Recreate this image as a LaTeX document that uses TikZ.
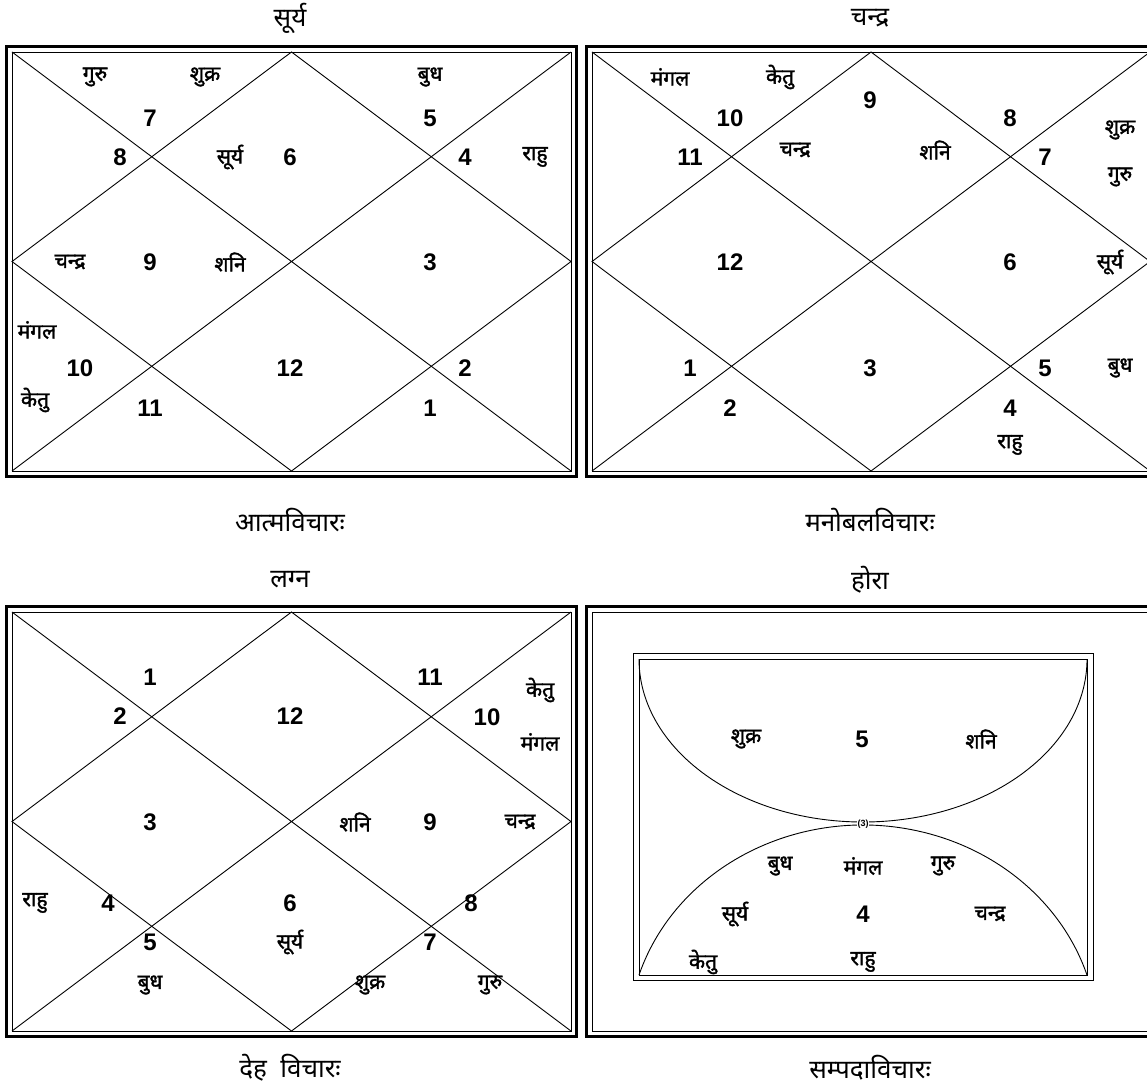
\documentclass[tikz,border=0pt]{standalone}
\usepackage{fontspec}
\setmainfont{Liberation Sans}
\newfontfamily\devfont[Script=Devanagari]{Noto Sans}
\newfontfamily\devbold[Script=Devanagari,FakeBold=1.6]{Noto Sans}
\tikzset{
  numtxt/.style={font=\fontsize{24}{24}\selectfont\bfseries, inner sep=0pt},
  pltxt/.style={font=\devbold\fontsize{21}{21}\selectfont, inner sep=0pt},
  ttltxt/.style={font=\devfont\fontsize{26}{26}\selectfont, inner sep=0pt},
  boxline/.style={line width=0.9pt},
  outerframe/.style={line width=2.6pt},
}
\newcommand\nichart[4]{%
  \draw[outerframe] (#1-5.5,#2-5.5) rectangle (#3+5.5,#4+5.5);
  \draw[boxline] (#1,#2) rectangle (#3,#4);
  \draw[boxline] (#1,#2) -- (#3,#4) (#3,#2) -- (#1,#4);
  \draw[boxline] ({(#1+#3)/2},#2) -- (#3,{(#2+#4)/2}) -- ({(#1+#3)/2},#4) -- (#1,{(#2+#4)/2}) -- cycle;
}
\begin{document}
\begin{tikzpicture}[x=1pt,y=-1pt]
\clip (0,0) rectangle (1147,1089);
\fill[white] (0,0) rectangle (1147,1089);

% ---------- Chart A: top-left (सूर्य) ----------
\nichart{12}{52}{571}{471}
\node[ttltxt] (tA) at (290,18) {सूर्य};
\node[ttltxt] (cA) at (290,520) {आत्मविचारः};
\node[pltxt] (a1) at (95,77) {गुरु};
\node[pltxt] (a2) at (205,77) {शुक्र};
\node[numtxt] (a3) at (150,118) {7};
\node[numtxt] (a4) at (120,157) {8};
\node[pltxt] (a5) at (230,157) {सूर्य};
\node[numtxt] (a6) at (290,157) {6};
\node[pltxt] (a7) at (430,77) {बुध};
\node[numtxt] (a8) at (430,118) {5};
\node[numtxt] (a9) at (465,157) {4};
\node[pltxt] (a10) at (535,157) {राहु};
\node[pltxt] (a11) at (70,262) {चन्द्र};
\node[numtxt] (a12) at (150,262) {9};
\node[pltxt] (a13) at (230,262) {शनि};
\node[numtxt] (a14) at (430,262) {3};
\node[pltxt] (a15) at (37,330) {मंगल};
\node[numtxt] (a16) at (80,368) {10};
\node[pltxt] (a17) at (35,400) {केतु};
\node[numtxt] (a18) at (150,408) {11};
\node[numtxt] (a19) at (290,368) {12};
\node[numtxt] (a20) at (465,368) {2};
\node[numtxt] (a21) at (430,408) {1};

% ---------- Chart B: top-right (चन्द्र) ----------
\nichart{592}{52}{1150}{471}
\node[ttltxt] (tB) at (870,18) {चन्द्र};
\node[ttltxt] (cB) at (870,520) {मनोबलविचारः};
\node[pltxt] (b1) at (670,77) {मंगल};
\node[pltxt] (b2) at (780,77) {केतु};
\node[numtxt] (b3) at (730,118) {10};
\node[numtxt] (b4) at (690,157) {11};
\node[numtxt] (b5) at (870,100) {9};
\node[pltxt] (b6) at (795,150) {चन्द्र};
\node[pltxt] (b7) at (935,150) {शनि};
\node[numtxt] (b8) at (1010,118) {8};
\node[numtxt] (b9) at (1045,157) {7};
\node[pltxt] (b10) at (1120,130) {शुक्र};
\node[pltxt] (b11) at (1120,177) {गुरु};
\node[numtxt] (b12) at (730,262) {12};
\node[numtxt] (b13) at (1010,262) {6};
\node[pltxt] (b14) at (1110,262) {सूर्य};
\node[numtxt] (b15) at (690,368) {1};
\node[numtxt] (b16) at (870,368) {3};
\node[numtxt] (b17) at (1045,368) {5};
\node[pltxt] (b18) at (1120,368) {बुध};
\node[numtxt] (b19) at (730,408) {2};
\node[numtxt] (b20) at (1010,408) {4};
\node[pltxt] (b21) at (1010,445) {राहु};

% ---------- Chart C: bottom-left (लग्न) ----------
\nichart{12}{612}{571}{1031}
\node[ttltxt] (tC) at (290,580) {लग्न};
\node[ttltxt] (cC) at (290,1068) {देह\ \ विचारः};
\node[numtxt] (c1) at (150,677) {1};
\node[numtxt] (c2) at (120,716) {2};
\node[numtxt] (c3) at (290,716) {12};
\node[numtxt] (c4) at (430,677) {11};
\node[numtxt] (c5) at (487,717) {10};
\node[pltxt] (c6) at (540,690) {केतु};
\node[pltxt] (c7) at (540,742) {मंगल};
\node[numtxt] (c8) at (150,822) {3};
\node[pltxt] (c9) at (355,822) {शनि};
\node[numtxt] (c10) at (430,822) {9};
\node[pltxt] (c11) at (520,822) {चन्द्र};
\node[pltxt] (c12) at (35,903) {राहु};
\node[numtxt] (c13) at (108,903) {4};
\node[numtxt] (c14) at (150,942) {5};
\node[pltxt] (c15) at (150,985) {बुध};
\node[numtxt] (c16) at (290,903) {6};
\node[pltxt] (c17) at (290,942) {सूर्य};
\node[numtxt] (c18) at (471,903) {8};
\node[numtxt] (c19) at (430,942) {7};
\node[pltxt] (c20) at (370,985) {शुक्र};
\node[pltxt] (c21) at (490,985) {गुरु};

% ---------- Chart D: bottom-right (होरा) ----------
\draw[outerframe] (586.5,606.5) rectangle (1155.5,1036.5);
\draw[boxline] (592,612) rectangle (1150,1031);
\draw[boxline] (633,653) rectangle (1093,980);
\draw[boxline] (639,659) rectangle (1087,975);
\draw[boxline] (639,659) arc[start angle=180, end angle=0, x radius=224, y radius=163];
\draw[boxline] (639,975) arc[start angle=197.6, end angle=342.4, x radius=235, y radius=215];
\node[ttltxt] (tD) at (870,580) {होरा};
\node[ttltxt] (cD) at (870,1068) {सम्पदाविचारः};
\node[pltxt] (d1) at (746,739) {शुक्र};
\node[numtxt] (d2) at (862,739) {5};
\node[pltxt] (d3) at (981,739) {शनि};
\node[fill=white, inner sep=0.5pt, font=\fontsize{9}{9}\selectfont\bfseries] (d4) at (863,824) {(3)};
\node[pltxt] (d5) at (780,866) {बुध};
\node[pltxt] (d6) at (863,866) {मंगल};
\node[pltxt] (d7) at (943,866) {गुरु};
\node[pltxt] (d8) at (735,914) {सूर्य};
\node[numtxt] (d9) at (863,914) {4};
\node[pltxt] (d10) at (990,914) {चन्द्र};
\node[pltxt] (d11) at (703,962) {केतु};
\node[pltxt] (d12) at (863,962) {राहु};
\end{tikzpicture}
\end{document}
